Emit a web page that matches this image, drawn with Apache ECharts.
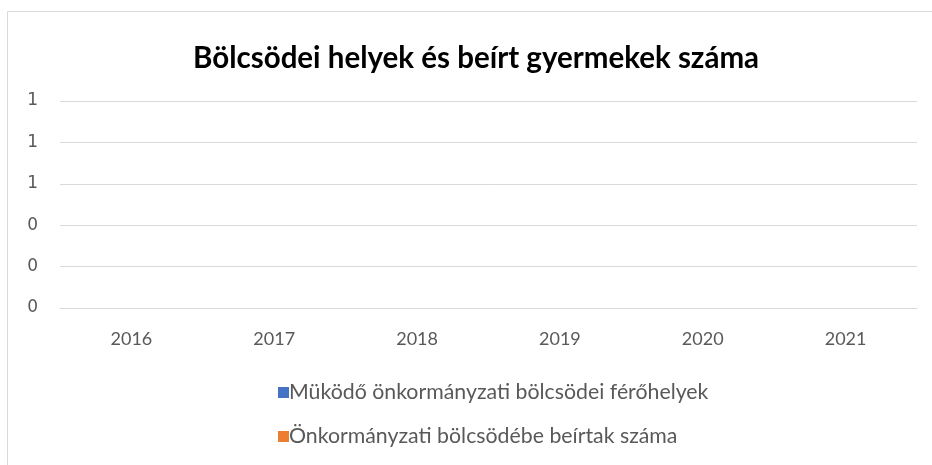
<!DOCTYPE html>
<html>
<head>
<meta charset="utf-8">
<style>
  html, body { margin: 0; padding: 0; background: #fff; }
  #chart { width: 932px; height: 465px; }
</style>
<script src="https://cdn.jsdelivr.net/npm/echarts@6/dist/echarts.min.js"></script>
</head>
<body>
<div id="chart"></div>
<script>
const categories = ["2016", "2017", "2018", "2019", "2020", "2021"];
const ferohelyek = [0, 0, 0, 0, 0, 0];
const beirtak = [0, 0, 0, 0, 0, 0];
const seriesNames = [
  "Müködő önkormányzati bölcsödei férőhelyek",
  "Önkormányzati bölcsödébe beírtak száma",
];

const chart = echarts.init(document.getElementById("chart"));
chart.setOption({
  animation: false,
  color: ["#4472C4", "#ED7D31"],
  graphic: [
    {
      type: "rect",
      shape: { x: 7.5, y: 11.5, width: 940, height: 480 },
      style: { fill: "none", stroke: "#D9D9D9", lineWidth: 1 },
    },
  ],
  title: {
    text: "Bölcsödei helyek és beírt gyermekek száma",
    left: 188,
    top: 38,
    textStyle: {
      fontFamily: "Lato",
      fontSize: 29.5,
      fontWeight: "bold",
      color: "#000",
    },
  },
  legend: {
    orient: "vertical",
    left: 278,
    top: 382,
    padding: 0,
    itemGap: 23,
    itemWidth: 11,
    itemHeight: 11,
    icon: "rect",
    textStyle: {
      fontFamily: "Lato",
      fontSize: 21.3,
      color: "#595959",
      padding: [0, 0, 0, -5],
    },
    data: seriesNames,
  },
  grid: {
    left: 60,
    right: 15,
    top: 101,
    height: 207,
    containLabel: false,
  },
  xAxis: {
    type: "category",
    data: categories,
    axisLine: { show: true, lineStyle: { color: "#D9D9D9" } },
    axisTick: { show: false },
    axisLabel: {
      margin: 22,
      fontFamily: "Lato",
      fontSize: 18,
      color: "#595959",
    },
  },
  yAxis: {
    type: "value",
    min: 0,
    max: 1,
    interval: 0.2,
    axisLine: { show: false },
    axisTick: { show: false },
    splitLine: { lineStyle: { color: "#D9D9D9" } },
    axisLabel: {
      margin: 22,
      fontFamily: "DejaVu Sans",
      fontSize: 17,
      color: "#595959",
      formatter: (v) => String(Math.round(v)),
    },
  },
  series: [
    { name: seriesNames[0], type: "bar", data: ferohelyek },
    { name: seriesNames[1], type: "bar", data: beirtak },
  ],
});
</script>
</body>
</html>
